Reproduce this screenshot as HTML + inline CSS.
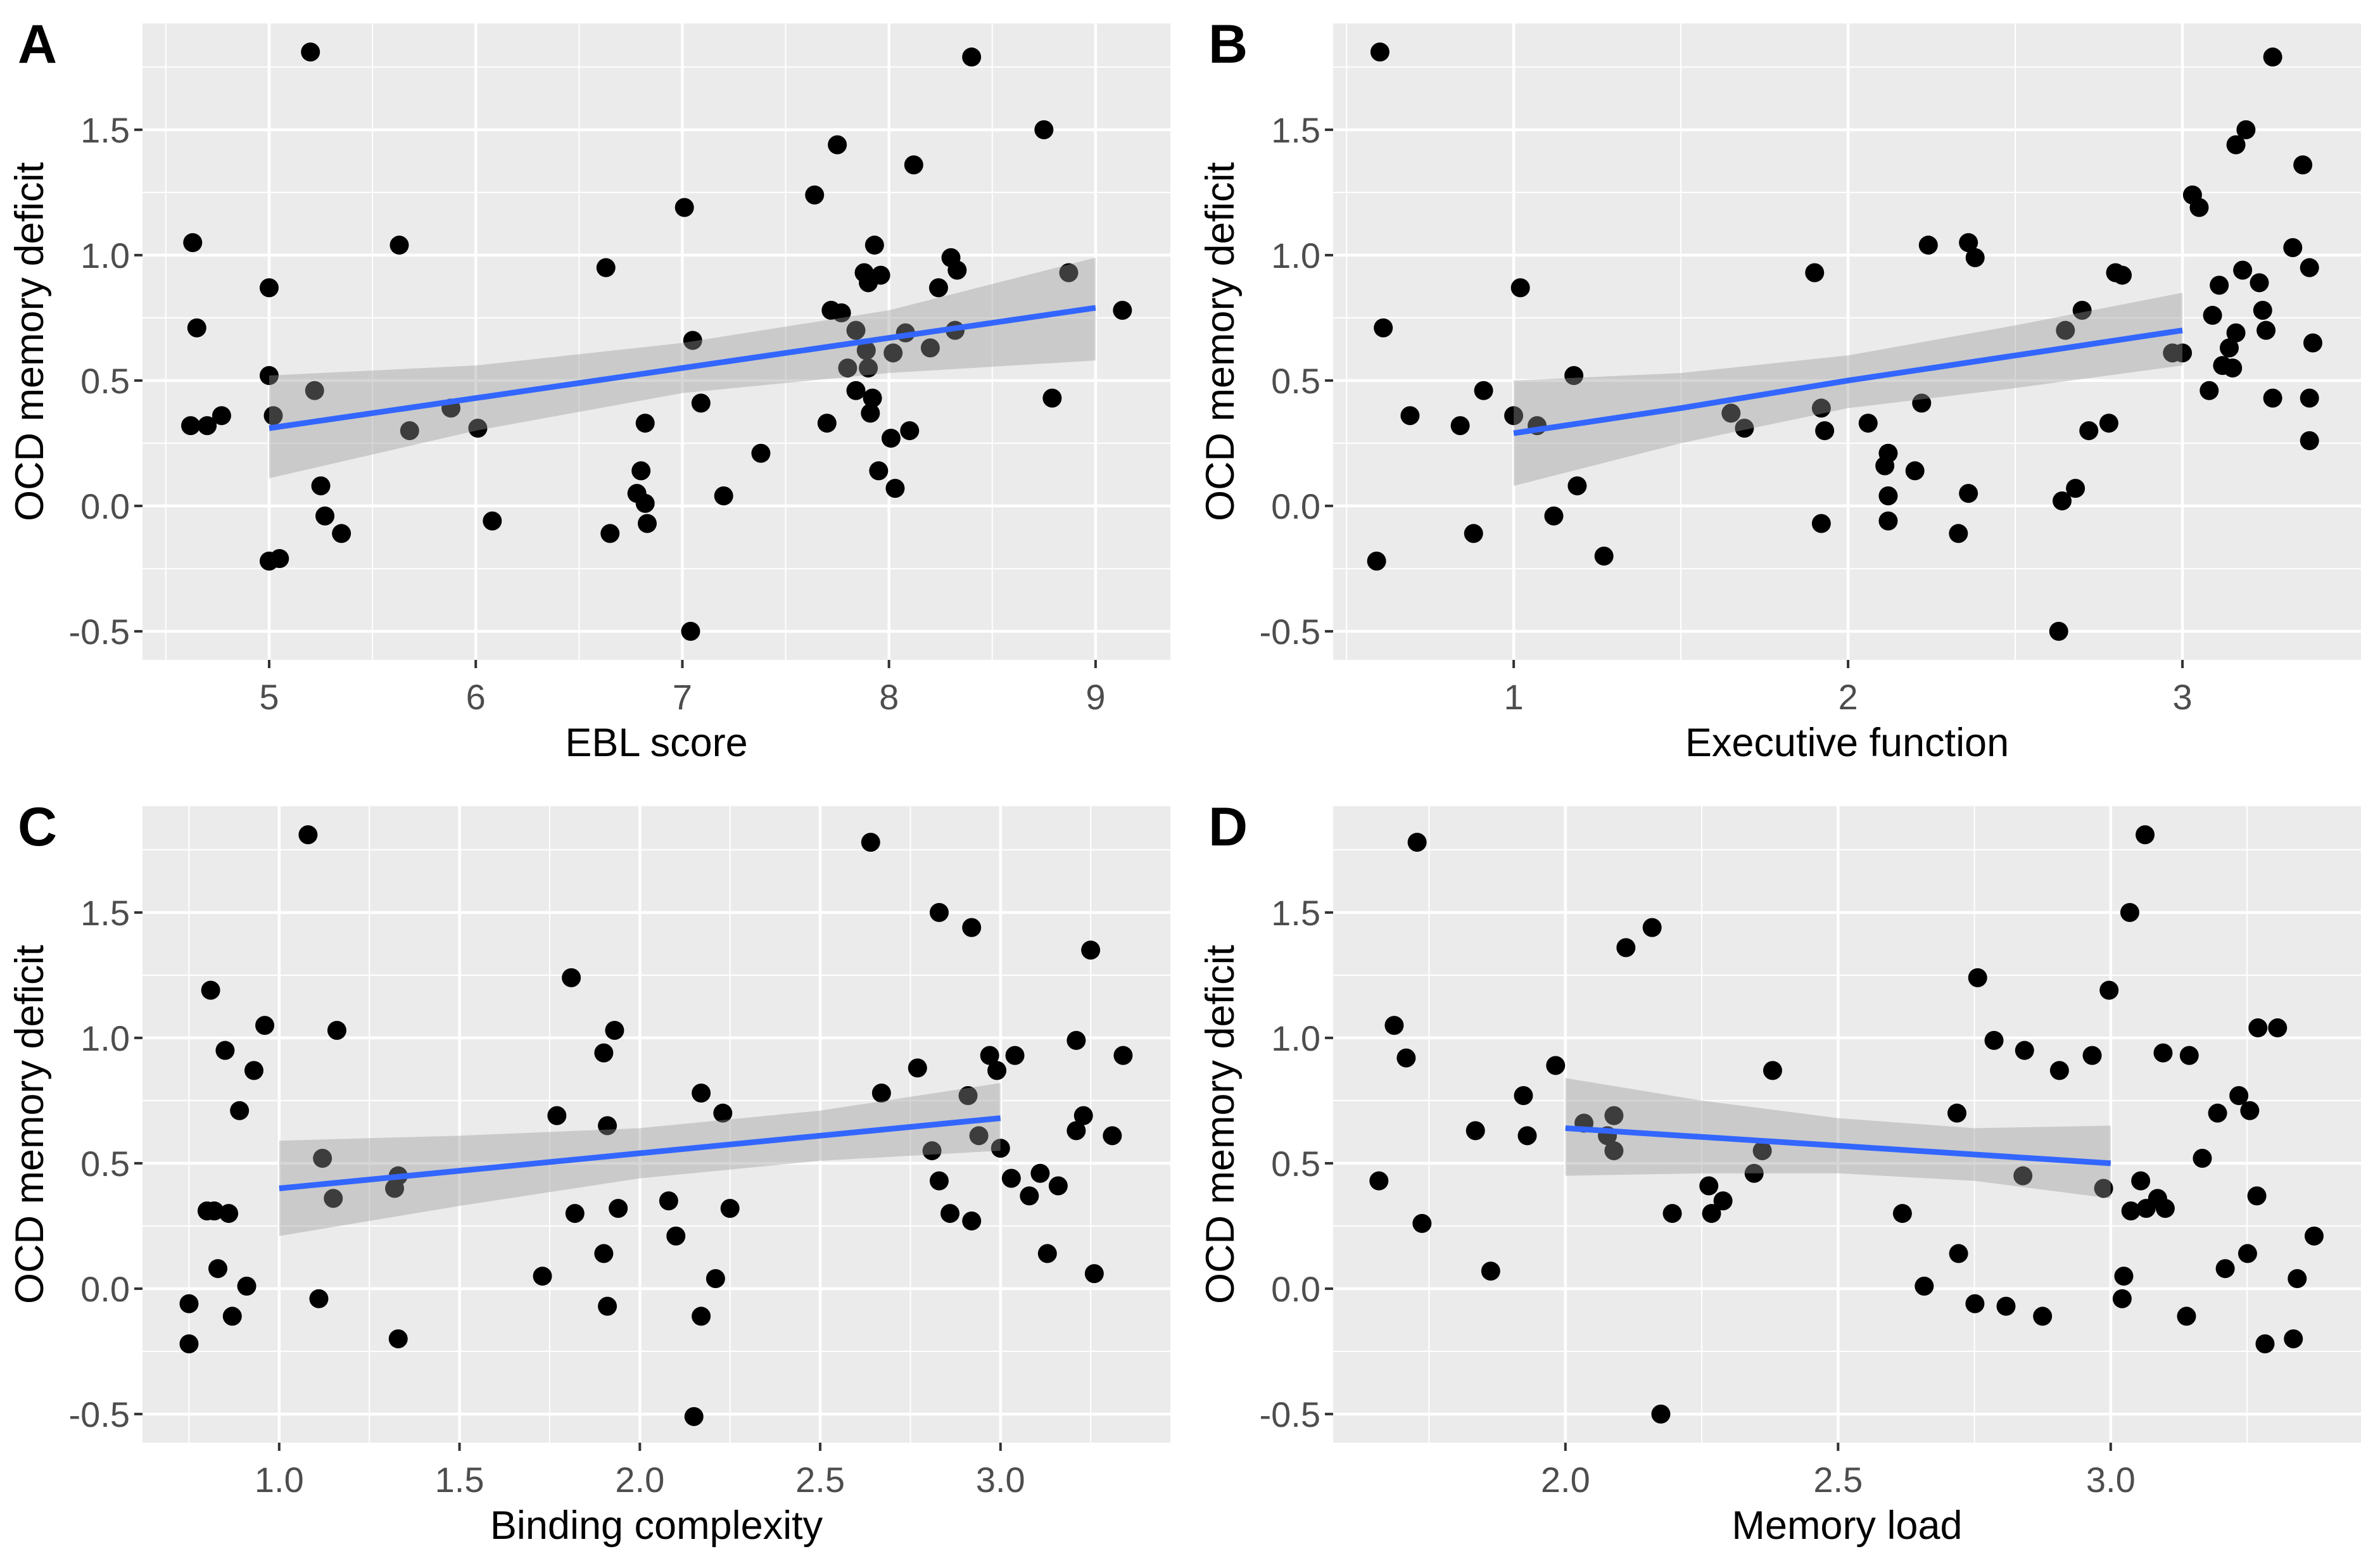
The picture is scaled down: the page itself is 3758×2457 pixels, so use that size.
<!DOCTYPE html>
<html><head><meta charset="utf-8"><style>
html,body{margin:0;padding:0;background:#fff}
svg{display:block}
</style></head><body>
<svg id="chart" xmlns="http://www.w3.org/2000/svg" width="3758" height="2457" viewBox="0 0 3758 2457"></svg>
<script>
// ---------- data ----------
const aX=[4.62,4.63,4.65,4.70,4.77,5.0,5.0,5.02,5.0,5.05,5.2,5.22,5.25,5.27,5.35,5.63,5.68,5.88,6.01,6.08,6.63,6.65,6.78,6.8,6.82,6.82,6.83,7.01,7.04,7.05,7.09,7.2,7.38,7.64,7.7,7.72,7.75,7.77,7.8,7.84,7.84,7.88,7.89,7.9,7.91,7.92,7.9,7.93,7.96,7.95,8.01,8.02,8.03,8.08,8.1,8.12,8.2,8.24,8.3,8.33,8.32,8.4,8.75,8.79,8.87,9.13];
const aY=[0.32,1.05,0.71,0.32,0.36,0.52,0.87,0.36,-0.22,-0.21,1.81,0.46,0.08,-0.04,-0.11,1.04,0.30,0.39,0.31,-0.06,0.95,-0.11,0.05,0.14,0.33,0.01,-0.07,1.19,-0.50,0.66,0.41,0.04,0.21,1.24,0.33,0.78,1.44,0.77,0.55,0.70,0.46,0.93,0.62,0.55,0.37,0.43,0.89,1.04,0.92,0.14,0.27,0.61,0.07,0.69,0.30,1.36,0.63,0.87,0.99,0.94,0.70,1.79,1.50,0.43,0.93,0.78];
const aFitX=[5,6,7,8,9];
const aFitMid=[0.31,0.43,0.55,0.67,0.79];
const aFitLo=[0.11,0.30,0.45,0.53,0.58];
const aFitHi=[0.52,0.56,0.65,0.78,0.99];

const bX=[0.6,0.61,0.59,0.69,0.84,0.88,0.91,1.0,1.02,1.07,1.12,1.18,1.19,1.27,1.65,1.69,1.9,1.92,1.92,1.93,2.06,2.11,2.12,2.12,2.12,2.2,2.22,2.24,2.33,2.36,2.36,2.38,2.63,2.64,2.65,2.68,2.7,2.72,2.78,2.8,2.82,2.97,3.0,3.03,3.05,3.08,3.09,3.11,3.12,3.14,3.15,3.16,3.16,3.18,3.19,3.23,3.24,3.25,3.27,3.27,3.33,3.36,3.38,3.38,3.38,3.39];
const bY=[1.81,0.71,-0.22,0.36,0.32,-0.11,0.46,0.36,0.87,0.32,-0.04,0.52,0.08,-0.2,0.37,0.31,0.93,0.39,-0.07,0.30,0.33,0.16,0.21,0.04,-0.06,0.14,0.41,1.04,-0.11,1.05,0.05,0.99,-0.5,0.02,0.70,0.07,0.78,0.30,0.33,0.93,0.92,0.61,0.61,1.24,1.19,0.46,0.76,0.88,0.56,0.63,0.55,0.69,1.44,0.94,1.50,0.89,0.78,0.70,1.79,0.43,1.03,1.36,0.95,0.26,0.43,0.65];
const bFitX=[1,1.5,2,2.5,3];
const bFitMid=[0.29,0.39,0.50,0.60,0.70];
const bFitLo=[0.08,0.25,0.39,0.47,0.56];
const bFitHi=[0.50,0.53,0.60,0.72,0.85];

const cX=[0.75,0.75,0.80,0.81,0.82,0.83,0.85,0.86,0.87,0.89,0.91,0.93,0.96,1.08,1.11,1.12,1.15,1.16,1.32,1.33,1.33,1.73,1.77,1.81,1.82,1.90,1.90,1.91,1.91,1.93,1.94,2.08,2.10,2.15,2.17,2.17,2.21,2.23,2.25,2.64,2.67,2.77,2.81,2.83,2.83,2.86,2.91,2.92,2.92,2.94,2.97,2.99,3.0,3.04,3.03,3.08,3.11,3.13,3.16,3.21,3.21,3.23,3.25,3.26,3.31,3.34];
const cY=[-0.06,-0.22,0.31,1.19,0.31,0.08,0.95,0.30,-0.11,0.71,0.01,0.87,1.05,1.81,-0.04,0.52,0.36,1.03,0.40,0.45,-0.20,0.05,0.69,1.24,0.30,0.14,0.94,-0.07,0.65,1.03,0.32,0.35,0.21,-0.51,0.78,-0.11,0.04,0.70,0.32,1.78,0.78,0.88,0.55,1.50,0.43,0.30,0.77,1.44,0.27,0.61,0.93,0.87,0.56,0.93,0.44,0.37,0.46,0.14,0.41,0.99,0.63,0.69,1.35,0.06,0.61,0.93];
const cFitX=[1,1.5,2,2.5,3];
const cFitMid=[0.40,0.47,0.54,0.61,0.68];
const cFitLo=[0.21,0.33,0.44,0.51,0.55];
const cFitHi=[0.59,0.61,0.64,0.71,0.82];

const dX=[1.658,1.686,1.708,1.728,1.737,1.835,1.863,1.923,1.930,1.982,2.034,2.077,2.089,2.089,2.111,2.159,2.175,2.196,2.263,2.268,2.289,2.346,2.361,2.380,2.618,2.658,2.718,2.721,2.751,2.756,2.786,2.808,2.839,2.842,2.875,2.906,2.966,2.987,2.997,3.021,3.024,3.035,3.037,3.055,3.063,3.065,3.086,3.096,3.100,3.139,3.144,3.168,3.196,3.210,3.235,3.251,3.255,3.268,3.270,3.283,3.306,3.335,3.342,3.373];
const dY=[0.43,1.05,0.92,1.78,0.26,0.63,0.07,0.77,0.61,0.89,0.66,0.61,0.69,0.55,1.36,1.44,-0.50,0.30,0.41,0.30,0.35,0.46,0.55,0.87,0.30,0.01,0.70,0.14,-0.06,1.24,0.99,-0.07,0.45,0.95,-0.11,0.87,0.93,0.40,1.19,-0.04,0.05,1.50,0.31,0.43,1.81,0.32,0.36,0.94,0.32,-0.11,0.93,0.52,0.70,0.08,0.77,0.14,0.71,0.37,1.04,-0.22,1.04,-0.20,0.04,0.21];
const dFitX=[2,2.25,2.5,2.75,3];
const dFitMid=[0.64,0.605,0.57,0.535,0.50];
const dFitLo=[0.45,0.46,0.46,0.43,0.36];
const dFitHi=[0.84,0.75,0.68,0.64,0.65];

const yTickVals=[-0.5,0,0.5,1,1.5];
const yTickLabels=["-0.5","0.0","0.5","1.0","1.5"];
const aTickVals=[5,6,7,8,9]; const aTickLabels=["5","6","7","8","9"];
const bTickVals=[1,2,3]; const bTickLabels=["1","2","3"];
const cTickVals=[1,1.5,2,2.5,3]; const cTickLabels=["1.0","1.5","2.0","2.5","3.0"];
const dTickVals=[2,2.5,3]; const dTickLabels=["2.0","2.5","3.0"];

// ---------- drawing ----------
const NS="http://www.w3.org/2000/svg";
const svg=document.getElementById('chart');
function mk(tag,attrs,parent){const e=document.createElementNS(NS,tag);for(const k in attrs)e.setAttribute(k,attrs[k]);(parent||svg).appendChild(e);return e;}

const panels=[
 {id:'a',letter:'A',left:225,top:37,xd:[4.387,9.362],xs:aX,ys:aY,fx:aFitX,fm:aFitMid,fl:aFitLo,fh:aFitHi,tv:aTickVals,tl:aTickLabels,minor:[4.5,5.5,6.5,7.5,8.5],title:'EBL score'},
 {id:'b',letter:'B',left:2105,top:37,xd:[0.460,3.534],xs:bX,ys:bY,fx:bFitX,fm:bFitMid,fl:bFitLo,fh:bFitHi,tv:bTickVals,tl:bTickLabels,minor:[0.5,1.5,2.5],title:'Executive function'},
 {id:'c',letter:'C',left:225,top:1273,xd:[0.621,3.471],xs:cX,ys:cY,fx:cFitX,fm:cFitMid,fl:cFitLo,fh:cFitHi,tv:cTickVals,tl:cTickLabels,minor:[0.75,1.25,1.75,2.25,2.75,3.25],title:'Binding complexity'},
 {id:'d',letter:'D',left:2105,top:1273,xd:[1.574,3.459],xs:dX,ys:dY,fx:dFitX,fm:dFitMid,fl:dFitLo,fh:dFitHi,tv:dTickVals,tl:dTickLabels,minor:[1.75,2.25,2.75,3.25],title:'Memory load'}
];
const W=1623,H=1005,YD=[-0.614,1.924];
const yMinor=[-0.25,0.25,0.75,1.25,1.75];
const font='"Liberation Sans", Arial, sans-serif';

panels.forEach(p=>{
  const g=mk('g',{});
  
  
  const sx=v=>p.left+(v-p.xd[0])/(p.xd[1]-p.xd[0])*W;
  const sy=v=>p.top+H-(v-YD[0])/(YD[1]-YD[0])*H;
  const bg=mk('rect',{x:p.left,y:p.top,width:W,height:H,fill:'#EBEBEB'},g);
  
  
  yMinor.forEach(v=>{const l=mk('line',{x1:p.left,x2:p.left+W,y1:sy(v),y2:sy(v),stroke:'#fff','stroke-width':2},g);});
  p.minor.forEach(v=>{const l=mk('line',{x1:sx(v),x2:sx(v),y1:p.top,y2:p.top+H,stroke:'#fff','stroke-width':2},g);});
  yTickVals.forEach((v,i)=>{
    const l=mk('line',{x1:p.left,x2:p.left+W,y1:sy(v),y2:sy(v),stroke:'#fff','stroke-width':4.5},g);
    
    const t=mk('line',{x1:p.left-13,x2:p.left,y1:sy(v),y2:sy(v),stroke:'#333','stroke-width':4},g);
    
    const tx=mk('text',{x:p.left-20,y:sy(v)+20,'text-anchor':'end','font-family':font,'font-size':56,fill:'#4D4D4D'},g);
    
    tx.textContent=yTickLabels[i];
  });
  p.tv.forEach((v,i)=>{
    const l=mk('line',{x1:sx(v),x2:sx(v),y1:p.top,y2:p.top+H,stroke:'#fff','stroke-width':4.5},g);
    
    const t=mk('line',{x1:sx(v),x2:sx(v),y1:p.top+H,y2:p.top+H+13,stroke:'#333','stroke-width':4},g);
    
    const tx=mk('text',{x:sx(v),y:p.top+H+78,'text-anchor':'middle','font-family':font,'font-size':56,fill:'#4D4D4D'},g);
    
    tx.textContent=p.tl[i];
  });
  // points
  p.xs.forEach((x,i)=>{
    const c=mk('circle',{cx:sx(x),cy:sy(p.ys[i]),r:15,fill:'#000'},g);
    
    
  });
  // confidence band
  let d='M'+p.fx.map((x,i)=>sx(x)+','+sy(p.fh[i])).join(' L');
  d+=' L'+p.fx.slice().reverse().map((x,i)=>sx(x)+','+sy(p.fl[p.fx.length-1-i])).join(' L')+' Z';
  const band=mk('path',{d:d,fill:'#999999','fill-opacity':0.4},g);
  
  
  const line=mk('polyline',{points:p.fx.map((x,i)=>sx(x)+','+sy(p.fm[i])).join(' '),fill:'none',stroke:'#3366FF','stroke-width':9},g);
  
  
  // titles
  const xt=mk('text',{x:p.left+W/2,y:p.top+H+152,'text-anchor':'middle','font-family':font,'font-size':63,fill:'#000'},g);
  
  xt.textContent=p.title;
  const cyv=p.top+H/2, cxv=p.left-157;
  const yt=mk('text',{x:cxv,y:cyv,'text-anchor':'middle','font-family':font,'font-size':63,fill:'#000',transform:'rotate(-90 '+cxv+' '+cyv+')'},g);
  
  yt.textContent='OCD memory deficit';
  const lt=mk('text',{x:p.left-197,y:p.top+62,'font-family':font,'font-size':86,'font-weight':'bold',fill:'#000'},g);
  
  lt.textContent=p.letter;
});
</script>
</body></html>
